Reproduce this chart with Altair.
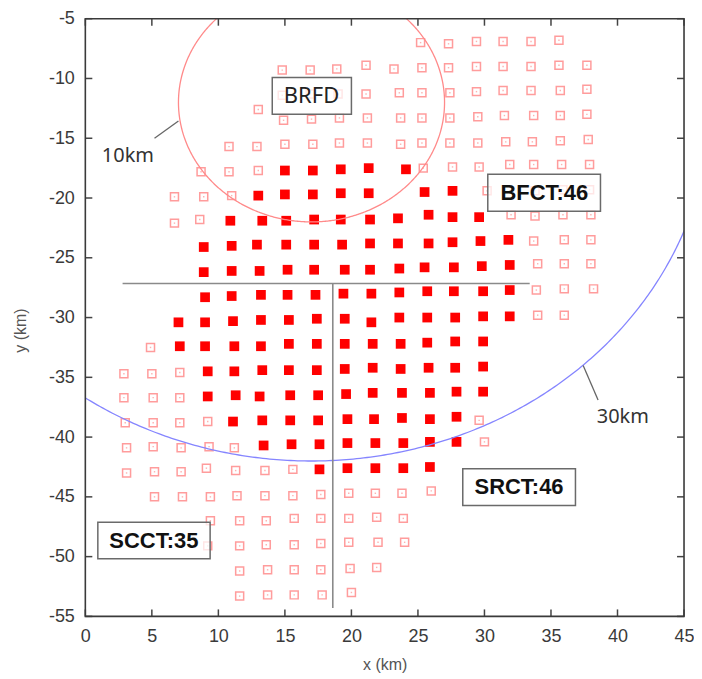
import altair as alt
import pandas as pd
import numpy as np

# ---------------- data (km) ----------------
hollow_x = [25.2, 27.3, 29.4, 31.4, 33.5, 35.6,
            14.8, 16.9, 18.9, 21.1, 23.2, 25.3, 27.3, 29.4, 31.4, 33.5, 35.6, 37.7,
            14.8, 16.9, 19.0, 21.1, 23.6, 25.3, 27.4, 29.4, 31.4, 33.5, 35.7, 37.7,
            13.0,
            14.9, 17.0, 19.1, 21.2, 23.7, 25.3, 27.4, 29.5, 31.5, 33.7, 35.7, 37.7,
            10.8, 12.9, 15.0, 17.1, 19.1, 21.2, 23.7, 25.3, 27.4, 29.5, 31.6, 33.6, 35.7, 37.8,
            8.7, 10.8, 13.0, 25.4, 27.6, 29.6, 31.9, 33.7, 35.8, 37.9,
            6.7, 8.9, 11.0, 30.2, 33.8, 35.9, 37.9,
            6.7, 8.6, 32.0, 33.8, 35.9, 38.0,
            33.7, 36.0, 38.0,
            34.0, 36.0, 38.0,
            33.9, 36.0, 38.2,
            34.0, 36.0,
            4.9,
            2.9, 5.0, 7.1,
            2.9, 5.1, 7.1,
            3.0, 5.1, 7.1, 9.2, 29.6,
            3.1, 5.1, 7.2, 9.3, 11.2, 30.0,
            3.1, 5.2, 7.2, 9.1, 11.3, 13.5, 15.6,
            5.2, 7.3, 9.4, 11.4, 13.5, 15.6, 17.7, 19.8, 21.8, 23.8, 26.0,
            9.4, 11.6, 13.6, 15.7, 17.7, 19.8, 21.9, 23.9,
            9.2, 11.6, 13.6, 15.7, 17.7, 19.8, 22.0, 24.0,
            11.6, 13.7, 15.7, 17.7, 19.9, 21.9,
            11.6, 13.7, 15.7, 17.8, 20.0]
hollow_y = [-7.0, -7.1, -6.9, -6.9, -6.9, -6.8,
            -9.3, -9.3, -9.2, -8.9, -9.2, -9.1, -9.1, -9.0, -9.0, -9.0, -8.9, -8.9,
            -11.4, -11.3, -11.3, -11.3, -11.2, -11.2, -11.2, -11.1, -11.0, -11.0, -11.0, -10.9,
            -12.6,
            -13.5, -13.4, -13.3, -13.3, -13.3, -13.3, -13.3, -13.2, -13.1, -13.1, -13.1, -13.0,
            -15.7, -15.7, -15.5, -15.5, -15.4, -15.4, -15.5, -15.4, -15.4, -15.4, -15.3, -15.3, -15.2, -15.1,
            -17.8, -17.8, -17.7, -17.5, -17.4, -17.4, -17.2, -17.2, -17.2, -17.2,
            -19.9, -19.9, -19.8, -19.4, -19.4, -19.3, -19.3,
            -22.1, -21.8, -21.4, -21.5, -21.4, -21.4,
            -23.6, -23.5, -23.5,
            -25.5, -25.5, -25.5,
            -27.7, -27.6, -27.6,
            -29.8, -29.8,
            -32.5,
            -34.7, -34.7, -34.6,
            -36.7, -36.7, -36.7,
            -38.8, -38.8, -38.8, -38.7, -38.6,
            -40.9, -40.8, -40.9, -40.8, -40.9, -40.4,
            -43.0, -42.9, -42.9, -42.6, -42.8, -42.8, -42.7,
            -45.0, -45.0, -45.0, -44.9, -44.9, -44.9, -44.8, -44.7, -44.7, -44.7, -44.5,
            -47.0, -47.0, -47.0, -46.8, -46.8, -46.8, -46.7, -46.8,
            -49.1, -49.1, -49.0, -49.0, -48.9, -48.8, -48.8, -48.8,
            -51.2, -51.1, -51.1, -51.1, -51.0, -50.9,
            -53.3, -53.2, -53.2, -53.2, -53.0]

filled_x = [15.0, 17.1, 19.2, 21.3, 24.1,
            13.0, 15.0, 17.1, 19.2, 21.3, 25.5, 27.6,
            10.9, 13.3, 15.1, 17.2, 19.2, 21.4, 23.5, 25.8, 27.6, 29.6,
            8.9, 11.0, 12.9, 15.1, 17.2, 19.3, 21.4, 23.5, 25.8, 27.6, 29.7, 31.8,
            8.9, 11.0, 13.1, 15.2, 17.2, 19.5, 21.4, 23.6, 25.5, 27.7, 29.8, 31.9,
            9.0, 11.0, 13.2, 15.2, 17.3, 19.4, 21.5, 23.6, 25.7, 27.7, 29.9, 31.9,
            7.0, 9.0, 11.1, 13.2, 15.3, 17.4, 19.5, 21.5, 23.6, 25.7, 27.8, 29.9, 31.9,
            7.1, 9.0, 11.2, 13.2, 15.3, 17.4, 19.5, 21.6, 23.7, 25.7, 27.8, 29.9,
            9.2, 11.2, 13.3, 15.3, 17.4, 19.5, 21.6, 23.7, 25.8, 27.8, 29.9,
            9.2, 11.3, 13.1, 15.4, 17.5, 19.6, 21.6, 23.8, 25.9, 27.9, 29.9,
            11.1, 13.3, 15.4, 17.5, 19.7, 21.7, 23.8, 25.9, 27.9,
            13.4, 15.5, 17.6, 19.7, 21.8, 23.9, 25.9, 27.9,
            17.6, 19.7, 21.8, 23.9, 25.9]
filled_y = [-17.7, -17.7, -17.6, -17.5, -17.6,
            -19.8, -19.7, -19.7, -19.6, -19.6, -19.5, -19.4,
            -21.9, -21.9, -21.9, -21.8, -21.8, -21.8, -21.7, -21.4, -21.6, -21.6,
            -24.1, -24.0, -23.9, -23.9, -23.9, -23.9, -23.8, -23.8, -23.8, -23.7, -23.6, -23.5,
            -26.2, -26.1, -26.1, -26.0, -26.0, -26.0, -26.0, -25.9, -25.8, -25.8, -25.7, -25.6,
            -28.3, -28.2, -28.1, -28.1, -28.1, -28.0, -28.0, -27.9, -27.8, -27.8, -27.8, -27.7,
            -30.4, -30.4, -30.3, -30.2, -30.2, -30.1, -30.1, -30.4, -30.0, -30.0, -30.0, -29.9, -29.9,
            -32.4, -32.4, -32.4, -32.4, -32.2, -32.2, -32.2, -32.2, -32.2, -32.1, -32.0, -32.0,
            -34.5, -34.5, -34.4, -34.4, -34.4, -34.3, -34.2, -34.3, -34.2, -34.2, -34.1,
            -36.6, -36.5, -36.6, -36.5, -36.5, -36.4, -36.3, -36.3, -36.3, -36.2, -36.2,
            -38.7, -38.6, -38.6, -38.6, -38.5, -38.5, -38.4, -38.5, -38.3,
            -40.7, -40.6, -40.6, -40.5, -40.5, -40.5, -40.4, -40.4,
            -42.7, -42.6, -42.6, -42.6, -42.5]

# circles around BRFD (center, radius in km)
circle_center = (17.0, -12.0)
circle_radii = [10, 30]
circle_names = ["10km", "30km"]

# cross lines through the network
hline_x = [2.8, 33.4]
hline_y = -27.15
vline_x = 18.6
vline_y = [-27.2, -54.3]

# boxed station labels
box_text = ["BRFD", "BFCT:46", "SRCT:46", "SCCT:35"]
box_cx = [17.0, 34.5, 32.6, 5.15]
box_cy = [-11.45, -19.57, -44.2, -48.66]
box_x0 = [14.05, 30.25, 28.37, 0.94]
box_x1 = [20.0, 38.72, 36.84, 9.38]
box_y0 = [-9.92, -18.02, -42.65, -47.13]
box_y1 = [-12.99, -21.11, -45.73, -50.18]

# radius labels and leader lines
rad_text = ["10km", "30km"]
rad_tx = [3.2, 40.4]
rad_ty = [-16.45, -38.35]
lead_x0 = [5.2, 37.42]
lead_y0 = [-15.0, -34.02]
lead_x1 = [7.0, 38.54]
lead_y1 = [-13.55, -36.89]

x_ticks = [0, 5, 10, 15, 20, 25, 30, 35, 40, 45]
y_ticks = [-5, -10, -15, -20, -25, -30, -35, -40, -45, -50, -55]

# ---------------- chart ----------------
W, H = 600, 599
xs = alt.Scale(domain=[0, 45], nice=False, zero=False)
ys = alt.Scale(domain=[-55, -5], nice=False, zero=False)
common = dict(ticks=False, domain=False, grid=False, labelFlush=False, labelOverlap=False,
              labelExpr="toString(datum.value)", labelFont="Liberation Sans", labelFontSize=18,
              labelColor="#3a3a3a", titleFont="Liberation Sans", titleFontSize=16,
              titleFontWeight="normal", titleColor="#555")
xaxis = alt.Axis(values=x_ticks, labelPadding=11, title="x (km)", titlePadding=11, **common)
yaxis = alt.Axis(values=y_ticks, labelPadding=11, title="y (km)", titleX=-65, titleY=312,
                 titleBaseline="middle", **common)


def X(f):
    return alt.X(f, type="quantitative", scale=xs, axis=xaxis)


def Y(f):
    return alt.Y(f, type="quantitative", scale=ys, axis=yaxis)


hollow_df = pd.DataFrame({"x": hollow_x, "y": hollow_y})
filled_df = pd.DataFrame({"x": filled_x, "y": filled_y})

hollow = alt.Chart(hollow_df).mark_square(filled=False, stroke="#ff5050", strokeWidth=1.5,
                                          size=64, strokeOpacity=0.8).encode(x=X("x"), y=Y("y"))
dots = alt.Chart(hollow_df).mark_square(filled=True, color="#ff9090", size=2).encode(x=X("x"), y=Y("y"))
filled = alt.Chart(filled_df).mark_square(filled=True, color="#ff0000", size=95, opacity=1).encode(
    x=X("x"), y=Y("y"))

# circle outlines: built from centre + radius
rows = []
for name, r in zip(circle_names, circle_radii):
    for i, t in enumerate(np.linspace(0, 2 * np.pi, 721)):
        rows.append({"c": name, "i": i, "x": circle_center[0] + r * np.cos(t),
                     "y": circle_center[1] + r * np.sin(t)})
circ_df = pd.DataFrame(rows)
circ10 = alt.Chart(circ_df[circ_df.c == "10km"]).mark_line(color="#ff8a8a", strokeWidth=1.3, clip=True).encode(
    x=X("x"), y=Y("y"), order="i:Q")
circ30 = alt.Chart(circ_df[circ_df.c == "30km"]).mark_line(color="#8585ff", strokeWidth=1.3, clip=True).encode(
    x=X("x"), y=Y("y"), order="i:Q")

cross_df = pd.DataFrame({"x": [hline_x[0], vline_x], "x2": [hline_x[1], vline_x],
                         "y": [hline_y, vline_y[0]], "y2": [hline_y, vline_y[1]]})
cross = alt.Chart(cross_df).mark_rule(color="#8a8a8a", strokeWidth=1.6).encode(
    x=X("x"), x2="x2", y=Y("y"), y2="y2")

lead_df = pd.DataFrame({"x": lead_x0, "x2": lead_x1, "y": lead_y0, "y2": lead_y1})
leaders = alt.Chart(lead_df).mark_rule(color="#666", strokeWidth=1.3).encode(
    x=X("x"), x2="x2", y=Y("y"), y2="y2")

rad_df = pd.DataFrame({"t": rad_text, "x": rad_tx, "y": rad_ty})
rad_txt = alt.Chart(rad_df).mark_text(font="Noto Sans", fontSize=20, color="#333").encode(
    x=X("x"), y=Y("y"), text="t:N")

box_df = pd.DataFrame({"t": box_text, "x": box_cx, "y": box_cy, "x0": box_x0, "x1": box_x1,
                       "y0": box_y0, "y1": box_y1, "bold": [0, 1, 1, 1]})
boxes = alt.Chart(box_df).mark_rect(fill="white", fillOpacity=0.75, stroke="#6a6a6a", strokeWidth=1.5).encode(
    x=X("x0"), x2="x1", y=Y("y0"), y2="y1")
brfd_txt = alt.Chart(box_df[box_df.bold == 0]).mark_text(font="Noto Sans", fontSize=22, color="#222").encode(
    x=X("x"), y=Y("y"), text="t:N")
bold_txt = alt.Chart(box_df[box_df.bold == 1]).mark_text(font="Liberation Sans", fontSize=22,
                                                         fontWeight="bold", color="#111").encode(
    x=X("x"), y=Y("y"), text="t:N")

xt_df = pd.DataFrame({"t": x_ticks})
yt_df = pd.DataFrame({"t": y_ticks})
tick_color = "#444"
xt_bot = alt.Chart(xt_df).mark_rule(color=tick_color, strokeWidth=1.5).encode(
    x=X("t"), y=alt.value(H), y2=alt.value(H - 7))
xt_top = alt.Chart(xt_df).mark_rule(color=tick_color, strokeWidth=1.5).encode(
    x=X("t"), y=alt.value(0), y2=alt.value(7))
yt_left = alt.Chart(yt_df).mark_rule(color=tick_color, strokeWidth=1.5).encode(
    y=Y("t"), x=alt.value(0), x2=alt.value(7))
yt_right = alt.Chart(yt_df).mark_rule(color=tick_color, strokeWidth=1.5).encode(
    y=Y("t"), x=alt.value(W), x2=alt.value(W - 7))

# plot frame
frame = alt.Chart(pd.DataFrame({"k": [0]})).mark_rect(fill=None, stroke="#3a3a3a", strokeWidth=1.6).encode(
    x=alt.value(0), x2=alt.value(W), y=alt.value(0), y2=alt.value(H))

chart = alt.layer(
    hollow, dots, filled, circ10, circ30, cross, leaders, rad_txt, boxes, brfd_txt, bold_txt,
    xt_bot, xt_top, yt_left, yt_right, frame
).properties(
    width=W, height=H, autosize="none", background="white",
    padding={"left": 77.5, "top": 10, "right": 10, "bottom": 60}
).configure_view(strokeWidth=0)

chart.save("out.html", embed_options={"renderer": "svg", "actions": False})
